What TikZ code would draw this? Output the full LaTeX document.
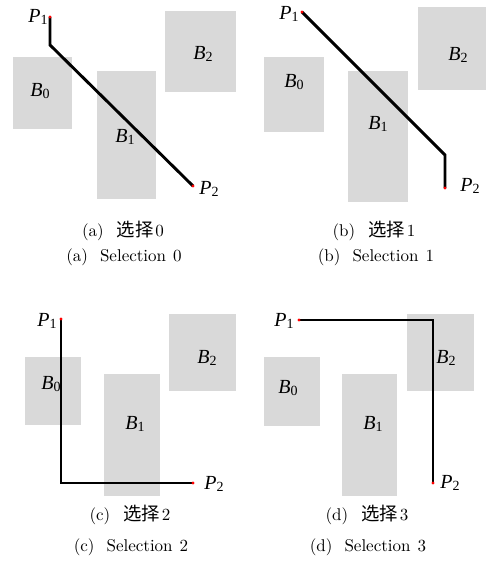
\documentclass[tikz,border=0pt]{standalone}
\usepackage{fontspec}
\newfontfamily\cjk{Noto Sans CJK SC}[Scale=1.08]
\newfontfamily\lab{Liberation Serif}
\newfontfamily\capfont{lmroman10-regular.otf}
\newcommand\Sym[2]{{\lab\textit{#1}\raisebox{-0.3ex}{\fontsize{14}{14}\selectfont #2}}}
\newcommand\CapCN[2]{(#1)\hspace{13pt}{\cjk 选择}\hspace{2pt}#2}
\newcommand\CapEN[2]{(#1)\hspace{12pt}Selection\hspace{7pt}#2}
\tikzset{
  box/.style={fill=black!15, draw=none, inner sep=0pt},
  lbl/.style={inner sep=0pt, font=\lab\fontsize{20}{20}\selectfont},
  route/.style={line width=2.9pt, line join=miter, line cap=butt},
  pdot/.style={circle, fill=red, inner sep=0pt, minimum size=3.4pt},
  captext/.style={inner sep=0pt, font=\capfont\fontsize{17}{17}\selectfont}
}
\begin{document}
\begin{tikzpicture}[x=1pt,y=-1pt]
\useasboundingbox (0,0) rectangle (485,572);
% ---------- panel (a)
\node[box, minimum width=59pt, minimum height=72pt] (a0) at (42.5,93) {};
\node[box, minimum width=59pt, minimum height=128pt] (a1) at (126.5,135) {};
\node[box, minimum width=71pt, minimum height=81pt] (a2) at (200.5,51.5) {};
\node[lbl] (ab0) at (40,91) {\Sym{B}{0}};
\node[lbl] (ab1) at (125,137) {\Sym{B}{1}};
\node[lbl] (ab2) at (203,54) {\Sym{B}{2}};
\coordinate (aP1) at (50,17);
\coordinate (aK) at (50,45);
\coordinate (aP2) at (193,186);
\draw[route] (aP1) -- (aK) -- (aP2);
\node[pdot] (aD1) at (aP1) {};
\node[pdot] (aD2) at (aP2) {};
\node[lbl] (ap1) at (38,17) {\Sym{P}{1}};
\node[lbl] (ap2) at (209,189) {\Sym{P}{2}};
\node[captext] (ca1) at (123,231) {\CapCN{a}{0}};
\node[captext] (ca2) at (124,257) {\CapEN{a}{0}};
% ---------- panel (b)
\node[box, minimum width=60pt, minimum height=75pt] (b0) at (294,94.5) {};
\node[box, minimum width=60pt, minimum height=131pt] (b1) at (378,136.5) {};
\node[box, minimum width=72pt, minimum height=83pt] (b2) at (454,48.5) {};
\node[lbl] (bb0) at (294,82) {\Sym{B}{0}};
\node[lbl] (bb1) at (378,124) {\Sym{B}{1}};
\node[lbl] (bb2) at (458,55) {\Sym{B}{2}};
\coordinate (bP1) at (302,12);
\coordinate (bK) at (445,155);
\coordinate (bP2) at (445,188);
\draw[route] (bP1) -- (bK) -- (bP2);
\node[pdot] (bD1) at (bP1) {};
\node[pdot] (bD2) at (bP2) {};
\node[lbl] (bp1) at (289,14) {\Sym{P}{1}};
\node[lbl] (bp2) at (470,186) {\Sym{P}{2}};
\node[captext] (cb1) at (374,231) {\CapCN{b}{1}};
\node[captext] (cb2) at (376,257) {\CapEN{b}{1}};
% ---------- panel (c)
\node[box, minimum width=56pt, minimum height=68pt] (c0) at (53,391) {};
\node[box, minimum width=56pt, minimum height=122pt] (c1) at (132,435) {};
\node[box, minimum width=67pt, minimum height=77pt] (c2) at (202.5,352.5) {};
\node[lbl] (cb0) at (51,384) {\Sym{B}{0}};
\node[lbl] (cb1l) at (135,424) {\Sym{B}{1}};
\node[lbl] (cb2l) at (207,358) {\Sym{B}{2}};
\coordinate (cP1) at (61,319);
\coordinate (cK) at (61,483);
\coordinate (cP2) at (193,483);
\draw[route] (cP1) -- (cK) -- (cP2);
\node[pdot] (cD1) at (cP1) {};
\node[pdot] (cD2) at (cP2) {};
\node[lbl] (cp1) at (47,321) {\Sym{P}{1}};
\node[lbl] (cp2) at (214,484) {\Sym{P}{2}};
\node[captext] (cc1) at (130,515) {\CapCN{c}{2}};
\node[captext] (cc2) at (131,547) {\CapEN{c}{2}};
% ---------- panel (d)
\node[box, minimum width=56pt, minimum height=69pt] (d0) at (292,391.5) {};
\node[box, minimum width=55pt, minimum height=122pt] (d1) at (369.5,435) {};
\node[box, minimum width=67pt, minimum height=77pt] (d2) at (440.5,352.5) {};
\node[lbl] (db0) at (288,388) {\Sym{B}{0}};
\node[lbl] (db1) at (373,424) {\Sym{B}{1}};
\node[lbl] (db2) at (446,358) {\Sym{B}{2}};
\coordinate (dP1) at (299,320);
\coordinate (dK) at (433,320);
\coordinate (dP2) at (433,483);
\draw[route] (dP1) -- (dK) -- (dP2);
\node[pdot] (dD1) at (dP1) {};
\node[pdot] (dD2) at (dP2) {};
\node[lbl] (dp1) at (284,321) {\Sym{P}{1}};
\node[lbl] (dp2) at (450,483) {\Sym{P}{2}};
\node[captext] (cd1) at (367,515) {\CapCN{d}{3}};
\node[captext] (cd2) at (368,547) {\CapEN{d}{3}};
\end{tikzpicture}
\end{document}
